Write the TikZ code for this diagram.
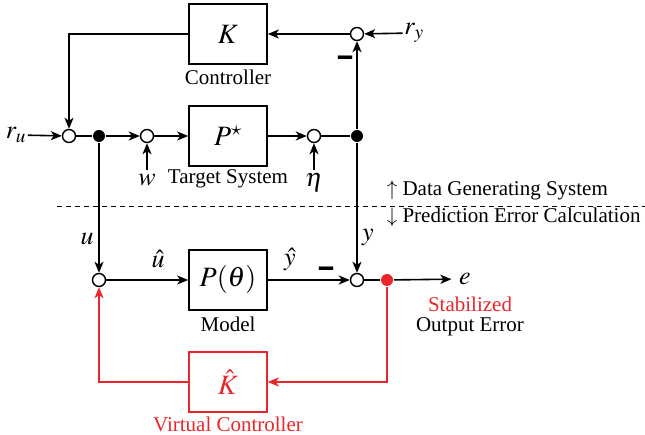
\documentclass[tikz,border=0pt]{standalone}
\usepackage{mathptmx}
\usepackage{fontspec}
\setmainfont{Liberation Serif}
\usepackage{tikz}
\usetikzlibrary{arrows.meta, positioning}
\definecolor{vred}{RGB}{235,38,42}

\begin{document}
\begin{tikzpicture}[
    x=1pt, y=-1pt,
    line width=1.6pt,
    block/.style={draw, rectangle, minimum width=78pt, minimum height=60pt, inner sep=0pt, font=\fontsize{28}{30}\selectfont},
    sum/.style={draw, circle, fill=white, minimum size=13pt, inner sep=0pt, line width=1.4pt},
    dot/.style={circle, fill, minimum size=12pt, inner sep=0pt},
    lbl/.style={font=\fontsize{21}{24}\selectfont, inner sep=0pt},
    sig/.style={font=\fontsize{26}{28}\selectfont, inner sep=1pt},
    minus/.style={font=\fontsize{28}{28}\selectfont\bfseries, inner sep=0pt},
    arrow/.style={-{Stealth[length=11pt, width=9pt, inset=3pt]}},
]
\useasboundingbox (0,0) rectangle (645,435);

% === DATA GENERATING SYSTEM ===
% Controller
\node[block] (K) at (228,34) {$K$};
\node[lbl] (K_lbl) at (228,77) {Controller};
\node[sum] (sum_r) at (357,34) {};
\node[sig] (r_y) at (414,33) {$r_y$};
\node[minus] (minus_r) at (345,63) {\scalebox{1}[1.8]{–}};

% Target system
\node[sig] (r_u) at (16,135) {$r_u$};
\node[sum] (sum_u) at (69,136) {};
\node[dot] (dot_u) at (99,136) {};
\node[sum] (sum_w) at (147,136) {};
\node[block] (Pstar) at (228,136) {$P^{\star}$};
\node[lbl] (P_lbl) at (228,179) {Target System};
\node[sum] (sum_eta) at (314,136) {};
\node[dot] (dot_y) at (357,136) {};
\node[sig, anchor=north, inner sep=3pt] (w) at (147,170) {$w$};
\node[sig, anchor=north, inner sep=3pt] (eta) at (314,170) {$\eta$};

% Connections
\draw[arrow] (r_u) -- (sum_u);
\draw[arrow] (K.west) -| (sum_u.north);
\draw (sum_u) -- (dot_u);
\draw[arrow] (dot_u) -- (sum_w);
\draw[arrow] (w) -- (sum_w);
\draw[arrow] (sum_w) -- (Pstar);
\draw[arrow] (Pstar) -- (sum_eta);
\draw[arrow] (eta) -- (sum_eta);
\draw (sum_eta) -- (dot_y);
\draw[arrow] (dot_y) -- (sum_r);
\draw[arrow] (r_y) -- (sum_r);
\draw[arrow] (sum_r) -- (K);

% === SEPARATOR ===
\coordinate (sep_l) at (57,207);
\coordinate (sep_r) at (645,207);
\draw[line width=1pt, dash pattern=on 5pt off 4pt] (sep_l) -- (sep_r);
\node[lbl, anchor=west] (dgs) at (386,190) {$\uparrow$ Data Generating System};
\node[lbl, anchor=west] (pec) at (386,217) {$\downarrow$ Prediction Error Calculation};

% === PREDICTION ERROR CALCULATION ===
\node[sum] (sum_uh) at (99,280) {};
\node[block] (Ptheta) at (228,280) {$P(\theta)$};
\node[lbl] (M_lbl) at (228,324) {Model};
\node[sum] (sum_e) at (357,280) {};
\node[dot, fill=vred] (dot_e) at (387,280) {};
\node[sig, inner xsep=7pt] (e) at (465,279) {$e$};
\node[lbl, text=vred] (stab) at (470,304) {Stabilized};
\node[lbl] (oe) at (470,327) {Output Error};
\node[sig] (u) at (87,239) {$u$};
\node[sig] (y) at (368,238) {$y$};
\node[sig] (uhat) at (158,259) {$\hat{u}$};
\node[sig] (yhat) at (290,259) {$\hat{y}$};
\node[minus] (minus_e) at (326,274) {\scalebox{1}[1.8]{–}};

% Virtual controller
\node[block, draw=vred, text=vred] (Khat) at (228,382) {$\hat{K}$};
\node[lbl, text=vred] (Kh_lbl) at (228,424) {Virtual Controller};

% Connections
\draw[arrow] (dot_u) -- (sum_uh);
\draw[arrow] (sum_uh) -- (Ptheta);
\draw[arrow] (Ptheta) -- (sum_e);
\draw[arrow] (dot_y) -- (sum_e);
\draw (sum_e) -- (dot_e);
\draw[arrow] (dot_e) -- (e);

% Stabilizing loop
\draw[arrow, vred] (dot_e) |- (Khat.east);
\draw[arrow, vred] (Khat.west) -| (sum_uh.south);

\end{tikzpicture}
\end{document}
